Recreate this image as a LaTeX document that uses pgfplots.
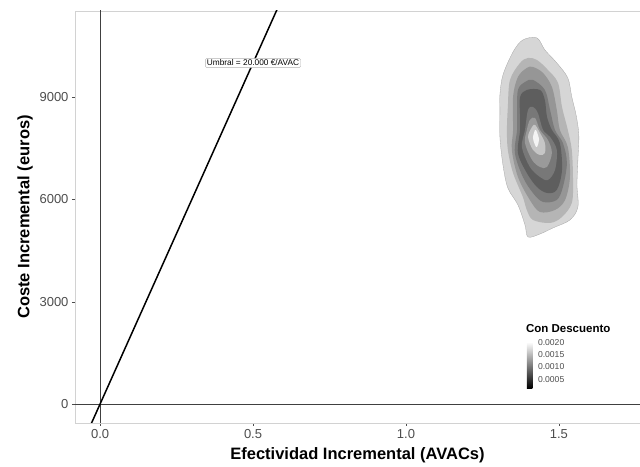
\documentclass[border=0pt]{standalone}
\usepackage{pgfplots}
\pgfplotsset{compat=1.18}
\usepackage{fontspec}
\setmainfont{Liberation Sans}

% contour fills, outer ring to peak
\definecolor{lvA}{HTML}{D6D6D6}
\definecolor{lvB}{HTML}{B5B5B5}
\definecolor{lvC}{HTML}{969696}
\definecolor{lvD}{HTML}{7A7A7A}
\definecolor{lvE}{HTML}{5E5E5E}
\definecolor{lvF}{HTML}{787878}
\definecolor{lvG}{HTML}{9A9A9A}
\definecolor{lvH}{HTML}{C6C6C6}
\definecolor{lvI}{HTML}{F4F4F4}
\definecolor{ticktxt}{HTML}{4D4D4D}

\begin{document}
\begin{tikzpicture}
\begin{axis}[
  scale only axis,
  width=565pt, height=412pt,
  xmin=-0.082, xmax=1.765,
  ymin=-557, ymax=11525,
  xtick={0,0.5,1,1.5},
  ytick={0,3000,6000,9000},
  scaled y ticks=false,
  axis line style={gray!35},
  tick align=outside,
  major tick length=3pt,
  tick style={gray!60!black},
  xtick pos=bottom, ytick pos=left,
  /pgf/number format/assume math mode=true,
  tick label style={font=\fontsize{13}{13}\selectfont, text=ticktxt},
  xticklabel style={/pgf/number format/fixed, /pgf/number format/fixed zerofill,
                    /pgf/number format/precision=1},
  yticklabel style={/pgf/number format/1000 sep={}},
  xlabel={Efectividad Incremental (AVACs)},
  ylabel={Coste Incremental (euros)},
  label style={font=\bfseries\fontsize{16.5}{17}\selectfont},
  xlabel style={yshift=-2pt},
  clip=true,
  contour/.style={draw=none, smooth cycle, tension=0.55},
]
  % density contour (filled levels)
  \addplot[contour, fill=lvA, draw=gray!70, line width=0.3pt] coordinates {
    (1.382,10676) (1.428,10735) (1.454,10383) (1.493,10002) (1.529,9562)
    (1.542,9004) (1.556,8476) (1.565,7890) (1.562,7157) (1.559,6423)
    (1.562,5778) (1.536,5397) (1.480,5162) (1.438,4986) (1.399,4898)
    (1.389,5250) (1.366,5837) (1.333,6335) (1.317,7010) (1.307,7831)
    (1.307,8623) (1.307,9063) (1.317,9650) (1.350,10324)
  };
  \addplot[contour, fill=lvB] coordinates {
    (1.399,10148) (1.428,10089) (1.464,9796) (1.497,9415) (1.510,8711)
    (1.529,8036) (1.542,7450) (1.546,6570) (1.542,5895) (1.510,5485)
    (1.471,5309) (1.415,5397) (1.395,5690) (1.382,6071) (1.350,6775)
    (1.333,7450) (1.330,8036) (1.333,8711) (1.340,9503) (1.373,10002)
  };
  \addplot[contour, fill=lvC] coordinates {
    (1.395,9855) (1.415,9884) (1.448,9708) (1.477,9298) (1.493,8623)
    (1.503,8036) (1.529,7538) (1.536,6658) (1.520,5983) (1.487,5690)
    (1.438,5631) (1.405,5983) (1.366,6658) (1.346,7450) (1.350,8036)
    (1.350,9004) (1.366,9591)
  };
  \addplot[contour, fill=lvD] coordinates {
    (1.389,9444) (1.415,9503) (1.454,9210) (1.471,8623) (1.487,8036)
    (1.513,7655) (1.526,7069) (1.513,6365) (1.493,5983) (1.448,5925)
    (1.415,6189) (1.382,6658) (1.356,7362) (1.363,8036) (1.363,8535)
    (1.366,9210)
  };
  \addplot[contour, fill=lvE] coordinates {
    (1.395,9210) (1.438,9210) (1.454,8916) (1.461,8418) (1.477,8036)
    (1.503,7655) (1.510,6863) (1.493,6277) (1.461,6189) (1.428,6365)
    (1.395,6775) (1.366,7362) (1.373,8036) (1.373,8418) (1.373,9004)
  };
  \addplot[contour, fill=lvF] coordinates {
    (1.399,8623) (1.415,8711) (1.431,8535) (1.448,8036) (1.471,7831)
    (1.493,7450) (1.487,6863) (1.464,6570) (1.438,6658) (1.405,6951)
    (1.379,7538) (1.389,8036)
  };
  \addplot[contour, fill=lvG] coordinates {
    (1.405,8330) (1.422,8388) (1.438,8036) (1.464,7743) (1.477,7362)
    (1.461,6951) (1.438,6951) (1.412,7157) (1.389,7655) (1.395,8036)
  };
  \addplot[contour, fill=lvH] coordinates {
    (1.412,8124) (1.422,8183) (1.438,7948) (1.454,7655) (1.454,7362)
    (1.438,7303) (1.415,7450) (1.399,7831)
  };
  \addplot[contour, fill=lvI] coordinates {
    (1.422,8036) (1.428,7978) (1.435,7743) (1.428,7538) (1.422,7596)
    (1.415,7802)
  };

  % reference lines at zero
  \addplot[gray!50!black, line width=0.5pt] coordinates {(0,-600) (0,12000)};
  \addplot[gray!50!black, line width=0.5pt] coordinates {(-0.1,0) (1.8,0)};

  % willingness-to-pay threshold: 20000 euros per AVAC
  \addplot[black, line width=1.5pt] coordinates {(-0.05,-1000) (0.6,12000)};
  \node[fill=white, draw=gray!60, rounded corners=1.5pt, inner sep=1.6pt,
        font=\fontsize{8.3}{9}\selectfont]
    at (axis cs:0.5,10000) {Umbral = 20.000 €/AVAC};

  % colour bar legend
  \shade[top color=white, bottom color=black]
    (axis cs:1.395,469) rectangle (axis cs:1.413,1818);
  \node[font=\bfseries\fontsize{11.5}{12}\selectfont, anchor=base west, inner sep=0pt]
    at (axis cs:1.392,2110) {Con Descuento};
  \node[font=\fontsize{8.6}{9}\selectfont, anchor=west, text=ticktxt] at (axis cs:1.420,1789) {0.0020};
  \node[font=\fontsize{8.6}{9}\selectfont, anchor=west, text=ticktxt] at (axis cs:1.420,1437) {0.0015};
  \node[font=\fontsize{8.6}{9}\selectfont, anchor=west, text=ticktxt] at (axis cs:1.420,1085) {0.0010};
  \node[font=\fontsize{8.6}{9}\selectfont, anchor=west, text=ticktxt] at (axis cs:1.420,704) {0.0005};
\end{axis}
\pgfresetboundingbox
\path (current axis.south west) ++(-75pt,-44pt) coordinate (bl);
\path (current axis.north east) ++(0pt,11pt) coordinate (tr);
\path (bl) rectangle (tr);
\end{tikzpicture}
\end{document}
